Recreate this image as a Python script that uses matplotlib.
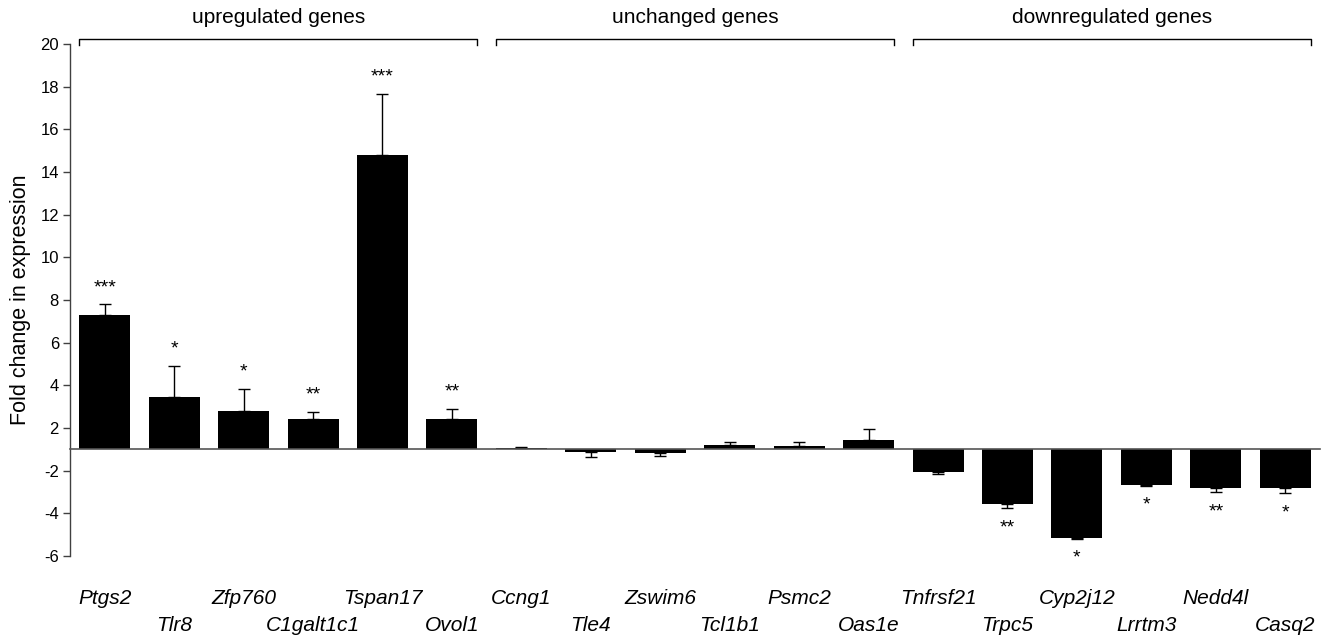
import matplotlib
matplotlib.use("Agg")
import matplotlib.pyplot as plt
import numpy as np

plt.rcParams.update({"font.family": ["Liberation Sans", "DejaVu Sans"]})

genes = ["Ptgs2", "Tlr8", "Zfp760", "C1galt1c1", "Tspan17", "Ovol1",
         "Ccng1", "Tle4", "Zswim6", "Tcl1b1", "Psmc2", "Oas1e",
         "Tnfrsf21", "Trpc5", "Cyp2j12", "Lrrtm3", "Nedd4l", "Casq2"]
# fold change (signed, |FC| >= 1)
fold = [7.29, 3.43, 2.78, 2.41, 14.8, 2.41,
        1.05, -1.13, -1.17, 1.22, 1.17, 1.42,
        -2.06, -3.57, -5.16, -2.67, -2.82, -2.82]
err = [0.5, 1.48, 1.07, 0.34, 2.87, 0.5,
       0.05, 0.23, 0.13, 0.12, 0.17, 0.55,
       0.08, 0.19, 0.03, 0.03, 0.19, 0.23]
stars = ["***", "*", "*", "**", "***", "**",
         "", "", "", "", "", "",
         "", "**", "*", "*", "**", "*"]
groups = ["upregulated genes", "unchanged genes", "downregulated genes"]
group_span = [(0, 5), (6, 11), (12, 17)]
ytick_labels = ["-6", "-4", "-2", "2", "4", "6", "8", "10", "12", "14",
                "16", "18", "20"]

# fold change axis: +1 / -1 both sit on the baseline
fold = np.array(fold)
plot_val = np.where(fold > 0, fold - 1, fold + 1)
x = np.arange(len(genes))
W = 0.735

fig = plt.figure(figsize=(13.31, 6.37), dpi=100)
ax = fig.add_axes([0.0526, 0.1272, 0.9391, 0.8037])

ax.bar(x, plot_val, width=W, color="black", zorder=3)
up = plot_val >= 0
ax.errorbar(x[up], plot_val[up], yerr=[np.zeros(up.sum()), np.array(err)[up]],
            fmt="none", ecolor="black", elinewidth=1.0, capsize=4, capthick=1.0,
            zorder=2)
ax.errorbar(x[~up], plot_val[~up], yerr=[np.array(err)[~up], np.zeros((~up).sum())],
            fmt="none", ecolor="black", elinewidth=1.0, capsize=4, capthick=1.0,
            zorder=2)

for xi, v, e, s in zip(x, plot_val, err, stars):
    if not s:
        continue
    if v >= 0:
        ax.annotate(s, (xi, v + e), xytext=(0, 12), textcoords="offset points",
                    ha="center", va="center", fontsize=14)
    else:
        ax.annotate(s, (xi, v - e), xytext=(0, -8), textcoords="offset points",
                    ha="center", va="top", fontsize=14)

ax.set_xlim(-0.5, 17.5)
ax.set_ylim(-5, 19)
yt = [-5, -3, -1, 1, 3, 5, 7, 9, 11, 13, 15, 17, 19]
ax.set_yticks(yt)
ax.set_yticklabels(ytick_labels, fontsize=12)
ax.tick_params(axis="y", length=5, width=1.0, color="#404040", pad=3)
ax.set_xticks([])
for s in ("top", "right"):
    ax.spines[s].set_visible(False)
ax.spines["left"].set_color("#404040")
ax.spines["left"].set_linewidth(1.0)
ax.spines["bottom"].set_position(("data", 0))
ax.spines["bottom"].set_color("#555555")
ax.spines["bottom"].set_linewidth(1.2)
ax.spines["bottom"].set_zorder(4)
ax.set_ylabel("Fold change in expression", fontsize=15.5, labelpad=7)

for i, g in enumerate(genes):
    y = -7.0 if i % 2 == 0 else -8.25
    ax.text(i, y, g, ha="center", va="center", fontsize=15, style="italic",
            clip_on=False)

for name, (a, b) in zip(groups, group_span):
    x0, x1 = a - W / 2, b + W / 2
    ax.plot([x0, x0, x1, x1], [18.95, 19.25, 19.25, 18.95], color="black",
            lw=1.0, clip_on=False)
    ax.text((x0 + x1) / 2, 20.25, name, ha="center", va="center", fontsize=15,
            clip_on=False)

fig.savefig("out.png", dpi=100)
